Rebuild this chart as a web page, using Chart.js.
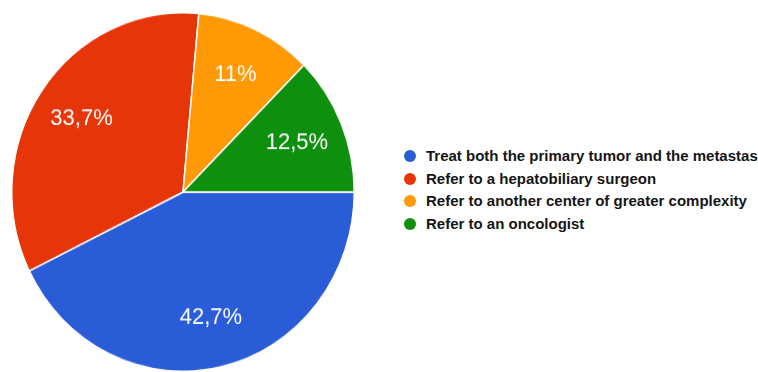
<!DOCTYPE html>
<html>
<head>
<meta charset="utf-8">
<script src="https://cdn.jsdelivr.net/npm/chart.js@4.4.1/dist/chart.umd.min.js"></script>
<style>
	html, body { margin: 0; padding: 0; background: #fff; }
	#wrap { position: relative; width: 758px; height: 372px; overflow: hidden; }
	#pie-box {
		position: absolute; left: 11px; top: 20px; width: 344px; height: 344px;
		transform: scaleY(1.047); transform-origin: 50% 50%;
	}
	#legend {
		position: absolute; left: 404px; top: 145px; width: 360px;
		font-family: "Liberation Sans", Arial, sans-serif;
		font-weight: bold; font-size: 15px; color: #151515; white-space: nowrap;
	}
	.leg-item { height: 22.5px; line-height: 22px; }
	.leg-dot {
		display: inline-block; width: 12px; height: 12px; border-radius: 50%;
		vertical-align: -1px; margin-right: 10px;
	}
</style>
</head>
<body>
<div id="wrap">
	<div id="pie-box"><canvas id="pie"></canvas></div>
	<div id="legend"></div>
</div>
<script>
// data
var labels = [
	"Treat both the primary tumor and the metastases",
	"Refer to a hepatobiliary surgeon",
	"Refer to another center of greater complexity",
	"Refer to an oncologist",
];
var values = [42.7, 33.7, 11, 12.5];
var valueText = ["42,7%", "33,7%", "11%", "12,5%"];
var colors = ["#2a5cd8", "#e63508", "#ff9a06", "#0e900e"];

// slice labels inside the pie
var sliceLabels = {
	id: "sliceLabels",
	afterDatasetsDraw: function (chart) {
		var ctx = chart.ctx;
		var meta = chart.getDatasetMeta(0);
		ctx.save();
		ctx.fillStyle = "#fff";
		ctx.font = "22px 'Liberation Sans', Arial, sans-serif";
		ctx.textAlign = "center";
		ctx.textBaseline = "middle";
		meta.data.forEach(function (arc, i) {
			var mid = (arc.startAngle + arc.endAngle) / 2;
			var r = arc.outerRadius * 0.72;
			ctx.fillText(valueText[i], arc.x + Math.cos(mid) * r, arc.y + Math.sin(mid) * r);
		});
		ctx.restore();
	},
};

new Chart(document.getElementById("pie"), {
	type: "pie",
	data: {
		labels: labels,
		datasets: [{
			data: values,
			backgroundColor: colors,
			borderColor: "#fff",
			borderWidth: 1.5,
		}],
	},
	options: {
		responsive: true,
		maintainAspectRatio: false,
		animation: false,
		rotation: 90,
		layout: { padding: 0 },
		plugins: {
			legend: { display: false },
			tooltip: { enabled: false },
		},
	},
	plugins: [sliceLabels],
});

// legend
document.getElementById("legend").innerHTML = labels
	.map(function (l, i) {
		return '<div class="leg-item"><span class="leg-dot" style="background:' + colors[i] + '"></span>' + l + "</div>";
	})
	.join("");
</script>
</body>
</html>
